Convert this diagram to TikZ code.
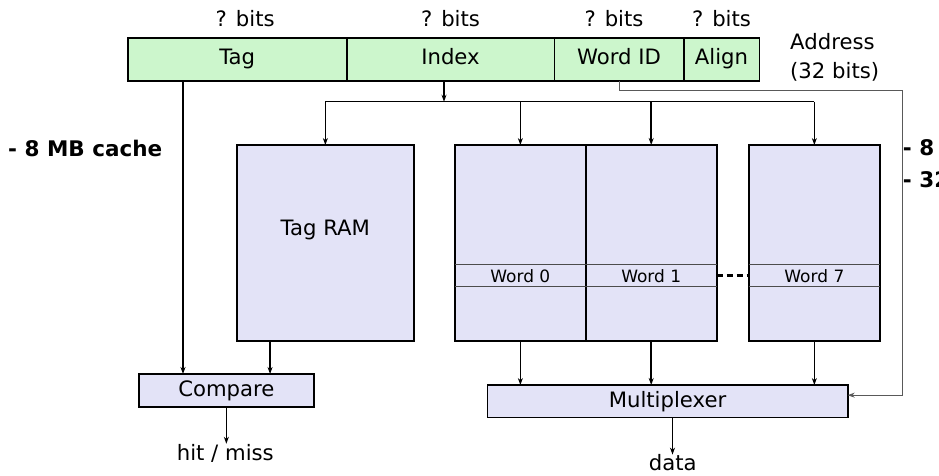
\documentclass[tikz,border=0pt]{standalone}
\usepackage{fontspec}
\setmainfont{DejaVu Sans}
\usepackage{tikz}
\usetikzlibrary{arrows.meta,positioning,calc}
\definecolor{fieldgreen}{RGB}{204,246,204}
\definecolor{memblue}{RGB}{227,227,247}
\tikzset{
  field/.style={rectangle, draw=black, line width=1.6pt, fill=fieldgreen, outer sep=0pt,
                inner sep=0pt, minimum height=43.3pt, text height=15pt, text depth=4pt,
                font=\fontsize{21.2}{24}\selectfont},
  mem/.style={rectangle, draw=black, line width=1.6pt, fill=memblue, outer sep=0pt,
              inner sep=0pt, align=center, font=\fontsize{21.2}{24}\selectfont},
  ar/.style={-{Stealth[length=7pt,width=5pt]}, line width=1.5pt},
  thinar/.style={-{Stealth[length=7pt,width=5pt]}, line width=0.8pt, draw=black!65},
  lbl/.style={inner sep=0pt, font=\fontsize{21.2}{29}\selectfont}
}

\begin{document}
\begin{tikzpicture}[
  x=1pt, y=-1pt,
  wordrow/.style={rectangle, inner sep=0pt, outer sep=0pt, minimum height=21.7pt,
                  font=\fontsize{17}{20}\selectfont},
  rowline/.style={draw=black!70, line width=1pt},
  gap/.style={dashed, dash pattern=on 6pt off 4pt, line width=3pt},
  note/.style={inner sep=0pt, anchor=west, font=\fontsize{21.5}{24}\selectfont\bfseries}
]
\useasboundingbox (0,0) rectangle (939,475);
% ---- address fields ----
\node[field, minimum width=219pt, anchor=north west] (tag) at (127.7,37.7) {Tag};
\node[field, minimum width=207.6pt, right=0pt of tag] (index) {Index};
\node[field, minimum width=129.4pt, right=0pt of index] (wid) {Word ID};
\node[field, minimum width=75.6pt, right=0pt of wid] (align) {Align};
\node[lbl] (btag) at ($(tag.north |- 0,19)+(8,0)$) {? bits};
\node[lbl] (bindex) at (index.north |- 0,19) {? bits};
\node[lbl] (bwid) at ($(wid.north |- 0,19)+(-5,0)$) {? bits};
\node[lbl] (balign) at (align.north |- 0,19) {? bits};
\node[lbl, anchor=west, align=left] (addr) at (790,57.5) {Address\\(32 bits)};
% ---- side notes ----
\node[note] (n1) at (8,148) {- 8 MB cache};
\node[note] (n2) at (902.7,148) {- 8};
\node[note] (n3) at (902.7,180) {- 32};
% ---- memories ----
\node[mem, minimum width=176.7pt, minimum height=196pt, anchor=north west] (tagram) at (237,145) {Tag RAM\\[6pt]};
\node[mem, minimum width=130.7pt, minimum height=196pt, anchor=north west] (a0) at (455,145) {};
\node[mem, minimum width=131pt, minimum height=196pt, right=0pt of a0] (a1) {};
\node[mem, minimum width=131.3pt, minimum height=196pt, anchor=north west] (a7) at (748.7,145) {};
\node[wordrow, minimum width=130.7pt] (w0) at (a0 |- 0,275.8) {Word 0};
\node[wordrow, minimum width=131pt] (w1) at (a1 |- 0,275.8) {Word 1};
\node[wordrow, minimum width=131.3pt] (w7) at (a7 |- 0,275.8) {Word 7};
\foreach \w in {w0,w1,w7}
  \draw[rowline] (\w.north west) -- (\w.north east) (\w.south west) -- (\w.south east);
\draw[gap] (w1.east) -- (w7.west);
% ---- compare and multiplexer ----
\node[mem, minimum width=174.7pt, minimum height=32.7pt, anchor=north west] (cmp) at (139,374) {Compare};
\node[mem, minimum width=360.4pt, minimum height=32.3pt, anchor=north west] (mux) at (487.3,385) {Multiplexer};
\node[lbl] (hit) at (225.3,453) {hit / miss};
\node[lbl] (data) at (672.7,463) {data};
% ---- index bus ----
\coordinate (bus) at (444,101.7);
\draw[ar] ([xshift=-6.5pt]index.south) -- (bus);
\draw[line width=1.5pt] (tagram.north |- bus) -- (a7.north |- bus);
\foreach \m in {tagram,a0,a1,a7}
  \draw[ar] (\m.north |- bus) -- (\m.north);
% ---- tag check ----
\draw[ar] ([xshift=44pt]cmp.north west |- tag.south) -- ([xshift=44pt]cmp.north west);
\draw[ar] ([xshift=-55.3pt]tagram.south) -- ([xshift=-55.3pt]tagram.south |- cmp.north);
\draw[ar] (cmp.south) -- (cmp.south |- hit.north);
% ---- word select ----
\foreach \m in {a0,a1,a7}
  \draw[ar] (\m.south) -- (\m.south |- mux.north);
\coordinate (wroute) at (902,90.3);
\draw[thinar] (wid.south) |- (wroute) |- ([yshift=6pt]mux.east);
\draw[ar] ([xshift=5pt]mux.south) -- ([xshift=5pt]mux.south |- data.north);
\end{tikzpicture}
\end{document}
